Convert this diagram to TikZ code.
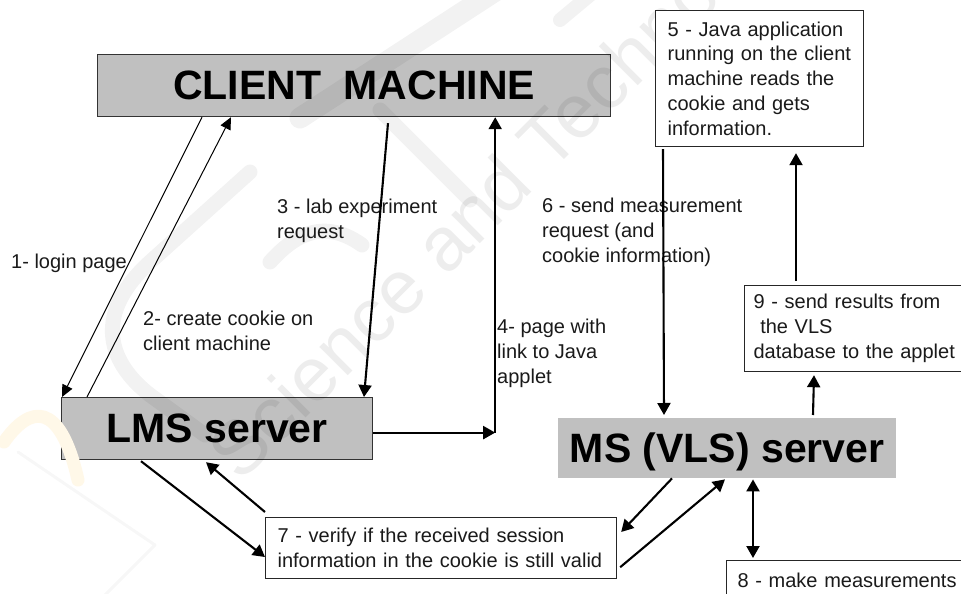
\documentclass[tikz,border=0pt]{standalone}
\usepackage{fontspec}
\setmainfont{Liberation Sans}
\usetikzlibrary{calc,arrows.meta}
\definecolor{boxgray}{HTML}{C0C0C0}
\definecolor{inkc}{HTML}{1A1A1A}
\definecolor{wmyellow}{HTML}{FFF8E8}
\tikzset{
  x=1pt,y=-1pt,
  hostbox/.style={fill=boxgray,draw=black!80,line width=1.2pt,inner sep=0pt,anchor=north west,text=black,font=\fontsize{41}{42}\selectfont\bfseries},
  msbox/.style={fill=boxgray,draw=none,inner sep=0pt,anchor=north west,text=black,font=\fontsize{41}{42}\selectfont\bfseries},
  notebox/.style={fill=white,draw=black!85,line width=1.2pt,anchor=north west,inner sep=0pt,align=left,text=inkc,font=\fontsize{20}{24.8}\selectfont},
  lbl/.style={anchor=base west,inner sep=0pt,align=left,text=inkc,font=\fontsize{20}{24.8}\selectfont},
  wmtext/.style={anchor=base west,inner sep=0pt,rotate=45,text=black,text opacity=0.07,font=\fontsize{76}{80}\selectfont},
  wmband/.style={draw=black,draw opacity=0.05,line cap=round,line join=round},
  thinarrow/.style={draw=black,line width=1pt,-{Triangle[length=12pt,width=11pt]}},
  thickarrow/.style={draw=black,line width=2.1pt,-{Triangle[length=12pt,width=13pt]}},
  botharrow/.style={draw=black,line width=2.1pt,{Triangle[length=12pt,width=13pt]}-{Triangle[length=12pt,width=13pt]}},
}
\begin{document}
\begin{tikzpicture}
\useasboundingbox (0,0) rectangle (961,594);
\fill[white] (0,0) rectangle (961,594);
% hosts
\node[hostbox,minimum width=513pt,minimum height=62pt] (client) at (97,54) {CLIENT\hspace{11pt} MACHINE};
\node[hostbox,minimum width=311pt,minimum height=62pt] (lms) at (61,397) {LMS server};
\node[msbox,minimum width=338pt,minimum height=60pt] (ms) at (558,418) {\rule{0pt}{38pt}MS (VLS) server};
% watermark
\draw[wmband,line width=21pt] (300,118) -- (500,-12);
\draw[wmband,line width=14pt] (560,20) -- (590,-5);
\draw[wmband,line width=15pt] (250,172) -- (150,262) .. controls (95,312) and (105,360) .. (150,395) -- (205,435);
\draw[wmband,line width=15pt] (362,245) .. controls (320,215) and (290,240) .. (270,262);
\draw[wmband,line width=15pt] (380,110) -- (470,200);
\draw[wmband,draw=wmyellow,draw opacity=1,line width=13pt] (4,442) .. controls (30,405) and (60,400) .. (78,480);
\draw[wmband,draw opacity=0.03,line width=3pt] (18,452) -- (155,545) -- (60,640);
\node[wmtext] (wm) at (240,484) {Science and Technology};
% note boxes
\node[notebox,minimum width=208pt,minimum height=136pt,text width=184pt,inner xsep=12pt] (five) at (655,10) {5 - Java application\\running on the client\\machine reads the\\cookie and gets\\information.};
\node[notebox,minimum width=221pt,minimum height=86pt,text width=208pt,inner xsep=9pt] (nine) at (744,285) {9 - send results from\\\ the VLS\\database to the applet};
\node[notebox,minimum width=351pt,minimum height=61pt,text width=327pt,inner xsep=12pt] (seven) at (265,517) {7 - verify if the received session\\information in the cookie is still valid};
\node[notebox,minimum width=240pt,minimum height=40pt,text width=220pt,inner xsep=11pt] (eight) at (726,560) {8 - make measurements};
% free labels
\node[lbl] (l1) at (11,268) {1- login page};
\node[lbl] (l2) at (143,350) {2- create cookie on\\client machine};
\node[lbl] (l3) at (277,238) {3 - lab experiment\\request};
\node[lbl] (l4) at (497,383) {4- page with\\link to Java\\applet};
\node[lbl] (l6) at (542,262) {6 - send measurement\\request (and\\cookie information)};
% corner of arrow 4
\coordinate (corner) at ($(lms.east)+(122,4)$);
% connectors
\draw[thinarrow] ($(client.south west)+(105,0)$) -- ($(lms.north west)+(1,0)$);
\draw[thinarrow] ($(lms.north west)+(26,0)$) -- ($(client.south west)+(134,0)$);
\draw[thickarrow] ($(client.south west)+(291,6)$) -- ($(lms.north west)+(303,0)$);
\draw[thickarrow] ($(lms.east)+(0,4)$) -- (corner);
\draw[thickarrow] (corner) -- (corner |- client.south);
\draw[thickarrow] ($(five.south west)+(8,2)$) -- ($(ms.north west)+(106,-3)$);
\draw[thickarrow] ($(nine.north west)+(52,-4)$) -- ($(five.south west)+(141,6)$);
\draw[thickarrow] ($(ms.north west)+(255,-3)$) -- ($(nine.south west)+(70,3)$);
\draw[thickarrow] ($(ms.south west)+(114,0)$) -- ($(seven.north east)+(4,15)$);
\draw[thickarrow] ($(seven.south east)+(3,-12)$) -- ($(ms.south west)+(167,1)$);
\draw[botharrow] ($(ms.south west)+(195,1)$) -- ($(eight.north west)+(27,-2)$);
\draw[thickarrow] ($(lms.south west)+(80,1)$) -- ($(seven.north west)+(0,40)$);
\draw[thickarrow] ($(seven.north west)+(0,-5)$) -- ($(lms.south west)+(145,2)$);
\end{tikzpicture}
\end{document}
